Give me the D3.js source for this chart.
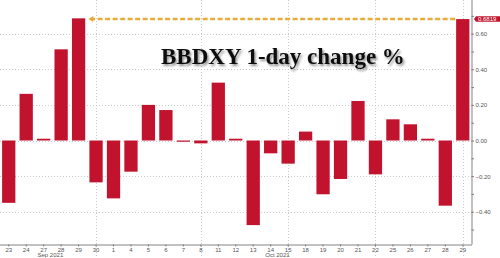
<!DOCTYPE html>
<meta charset="UTF-8">
<head>
    <title>BBDXY 1-day change %</title>
    <style>
        body { margin: 0; background: #fff; }
        .axis text { font-family: "Liberation Sans", Arial, sans-serif; font-size: 6px; fill: #555; }
        .axis path, .axis line { stroke: #666; stroke-width: 0.8; }
    </style>
</head>
<body>
<svg width="500" height="258"></svg>
<script src="https://d3js.org/d3.v7.min.js"></script>
<script>

// Data.
var days = ["Sep 23", "Sep 24", "Sep 27", "Sep 28", "Sep 29", "Sep 30",
            "Oct 1", "Oct 4", "Oct 5", "Oct 6", "Oct 7", "Oct 8", "Oct 11", "Oct 12",
            "Oct 13", "Oct 14", "Oct 15", "Oct 18", "Oct 19", "Oct 20", "Oct 21",
            "Oct 22", "Oct 25", "Oct 26", "Oct 27", "Oct 28", "Oct 29"];
var changes = [-0.35, 0.262, 0.01, 0.512, 0.686, -0.235,
               -0.325, -0.175, 0.2, 0.171, -0.007, -0.016, 0.325, 0.01,
               -0.475, -0.072, -0.13, 0.05, -0.302, -0.216, 0.222,
               -0.19, 0.119, 0.091, 0.01, -0.366, 0.6819];
var gridDays = ["Sep 30", "Oct 8", "Oct 15", "Oct 22", "Oct 29"];
var monthLabels = [["Sep 2021", "Sep 27", "Sep 28"], ["Oct 2021", "Oct 14", "Oct 15"]];
var yTicks = [-0.4, -0.2, 0, 0.2, 0.4, 0.6];
var lastValue = 0.6819;
var peakDay = "Sep 29";
var title = "BBDXY 1-day change %";

var svg = d3.select("svg"),
    width = +svg.attr("width"),
    height = +svg.attr("height");

var plotRight = 471.5, plotBottom = 244.5;

var x = d3.scaleBand()
    .domain(days)
    .range([0, plotRight])
    .paddingInner(0.24)
    .paddingOuter(0.12);

var y = d3.scaleLinear()
    .domain([-0.584, 0.789])
    .range([plotBottom, 0]);

var red = "#c1132e";

// drop shadow for title
var defs = svg.append("defs");
var f = defs.append("filter").attr("id", "shadow").attr("x", "-10%").attr("y", "-30%")
    .attr("width", "130%").attr("height", "180%");
f.append("feDropShadow").attr("dx", 1.5).attr("dy", 2).attr("stdDeviation", 1.2)
    .attr("flood-color", "#000").attr("flood-opacity", 0.45);

// horizontal grid
svg.append("g").selectAll("line")
    .data(yTicks)
    .enter().append("line")
    .attr("x1", 0).attr("x2", plotRight)
    .attr("y1", function(d) { return Math.round(y(d)) + 0.5; })
    .attr("y2", function(d) { return Math.round(y(d)) + 0.5; })
    .attr("stroke", "#bdbdbd").attr("stroke-width", 0.8)
    .attr("stroke-dasharray", "1,2");

// vertical grid (weekly)
svg.append("g").selectAll("line")
    .data(gridDays)
    .enter().append("line")
    .attr("x1", function(d) { return Math.round(x(d) + x.bandwidth() / 2) + 0.5; })
    .attr("x2", function(d) { return Math.round(x(d) + x.bandwidth() / 2) + 0.5; })
    .attr("y1", 0).attr("y2", height)
    .attr("stroke", "#bdbdbd").attr("stroke-width", 0.8)
    .attr("stroke-dasharray", "1,2");

// bars
svg.append("g").selectAll("rect")
    .data(days)
    .enter().append("rect")
    .attr("x", function(d) { return x(d); })
    .attr("width", x.bandwidth())
    .attr("y", function(d, i) { return y(Math.max(0, changes[i])); })
    .attr("height", function(d, i) { return Math.max(0.8, Math.abs(y(changes[i]) - y(0))); })
    .attr("fill", red);

// right axis
var yAxis = d3.axisRight(y)
    .tickValues(d3.range(-0.5, 0.75, 0.1))
    .tickSize(2.5)
    .tickFormat(function(d) {
        var r = Math.round(d * 10);
        return r % 2 === 0 ? d3.format(".2f")(d).replace("-", "-") : "";
    });
var ya = svg.append("g")
    .attr("class", "axis")
    .attr("transform", "translate(" + plotRight + ",0)")
    .call(yAxis);
ya.select(".domain").attr("d", "M0.5,0V" + plotBottom);
ya.selectAll(".tick text").attr("x", 4);
ya.selectAll(".tick line").attr("stroke", function(d) {
    return Math.round(d * 10) % 2 === 0 ? "#333" : "#999";
});

// bottom axis
var xAxis = d3.axisBottom(x)
    .tickSize(2)
    .tickFormat(function(d) { return d.split(" ")[1]; });
var xa = svg.append("g")
    .attr("class", "axis")
    .attr("transform", "translate(0," + plotBottom + ")")
    .call(xAxis);
xa.select(".domain").attr("d", "M0,0.5H" + (plotRight + 0.5));
xa.selectAll(".tick text").attr("y", 3.5);

// month labels
svg.append("g").attr("class", "axis").selectAll("text")
    .data(monthLabels)
    .enter().append("text")
    .attr("x", function(d) { return (x(d[1]) + x(d[2]) + x.bandwidth()) / 2 - 2; })
    .attr("y", 257)
    .attr("text-anchor", "middle")
    .text(function(d) { return d[0]; });

// dashed arrow from last bar back to the Sep 29 peak
var ay = y(lastValue);
var ax1 = x(days[days.length - 1]) - 1;
var ax2 = x(peakDay) + x.bandwidth() + 3;
svg.append("line")
    .attr("x1", ax1).attr("x2", ax2 + 4)
    .attr("y1", ay).attr("y2", ay)
    .attr("stroke", "#e8ac3c").attr("stroke-width", 2.5)
    .attr("stroke-dasharray", "5,2.5");
svg.append("path")
    .attr("d", "M" + ax2 + "," + ay + "l5,-3l0,6z")
    .attr("fill", "#e8ac3c");

// last value tag
var tag = svg.append("g").attr("transform", "translate(" + (plotRight + 2.5) + "," + ay + ")");
tag.append("path")
    .attr("d", "M0,0l2,-2.8h28v5.6h-28z")
    .attr("fill", red);
tag.append("text")
    .attr("x", 4).attr("y", 2.1)
    .attr("font-family", "Liberation Sans, Arial, sans-serif")
    .attr("font-size", 6).attr("fill", "#fff")
    .text(d3.format(".4f")(lastValue));

// title
svg.append("text")
    .attr("x", 161).attr("y", 64)
    .attr("font-family", "Liberation Serif, Times New Roman, serif")
    .attr("font-weight", "bold")
    .attr("font-size", 23)
    .attr("fill", "#111")
    .attr("filter", "url(#shadow)")
    .text(title);

</script>
</body>
